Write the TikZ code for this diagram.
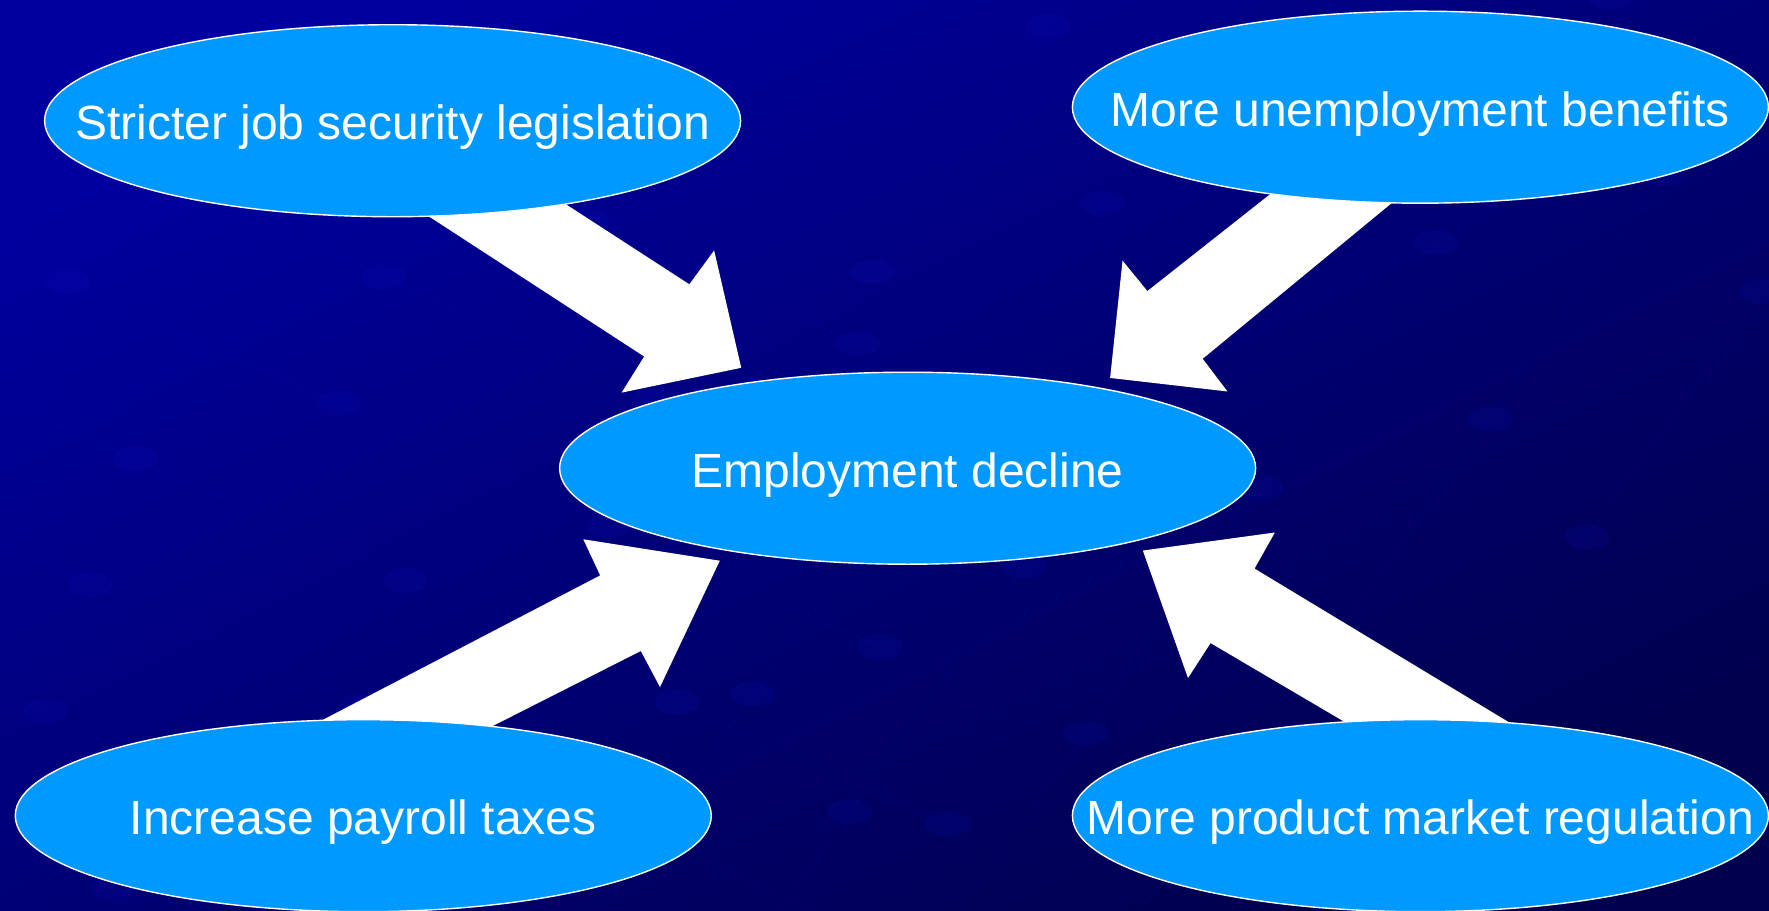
\documentclass[tikz,border=0pt]{standalone}
\usepackage{fontspec}
\setmainfont{Liberation Sans}
\usetikzlibrary{shapes.geometric}
\definecolor{bgA}{RGB}{0,0,158}
\definecolor{bgB}{RGB}{0,0,78}
\definecolor{patc}{RGB}{20,20,210}
\definecolor{ellfill}{RGB}{0,153,255}
\begin{document}
\begin{tikzpicture}[x=1.1282pt,y=-1.1282pt,
  bubble/.style={ellipse, draw=white, line width=1.4pt, fill=ellfill,
    minimum width=696pt, minimum height=192pt, inner sep=0pt},
  lbl/.style={text=white, font=\fontsize{48}{56}\selectfont, anchor=base, inner sep=0pt},
  blockarrow/.style={fill=white},
  patline/.style={draw=patc, opacity=0.1, line width=1pt},
  patdot/.style={fill=patc, opacity=0.12}]
\useasboundingbox (0,0) rectangle (1568,807);
\shade[top color=bgA, bottom color=bgB, shading angle=27] (0,0) rectangle (1568,807);

% faint background pattern
\begin{scope}
\clip (0,0) rectangle (1568,807);
\foreach \yy/\off in {-60/0,70/120,200/40,330/160,460/80,590/0,720/120} {
  \draw[patline] (-50,\yy) -- (850,\yy+405);
  \foreach \xx in {40,280,520,760} {
    \fill[patdot] ({\xx+\off*0.5},{\yy+0.45*(\xx+\off*0.5)+22.5}) ellipse (20 and 11);
  }
}
\foreach \xx/\sh in {900/0.05,1060/0.12,1220/0.0,1380/0.08,1540/0.15,1700/0.03} {
  \draw[patline] (\xx-560,850) -- (\xx+60,-20);
  \foreach \t in {0.15,0.4,0.65,0.9} {
    \fill[patdot] ({\xx-560+(\t+\sh)*620},{850-(\t+\sh)*870}) ellipse (20 and 11);
  }
}
\end{scope}

% block arrows (tails hidden under the ellipses)
\fill[blockarrow] (483,169) -- (611,252) -- (633,222) -- (657,326) -- (551,348) -- (571,316) -- (362,180) -- cycle;
\fill[blockarrow] (1145,157) -- (1017,258) -- (995,231) -- (984,335) -- (1088,347) -- (1066,318) -- (1253,164) -- cycle;
\fill[blockarrow] (269,647) -- (532,510) -- (517,478) -- (638,497) -- (585,609) -- (568,577) -- (420,652) -- cycle;
\fill[blockarrow] (1209,650) -- (1073,570) -- (1053,601) -- (1013,488) -- (1130,472) -- (1112,504) -- (1357,652) -- cycle;

% ellipses
\node[bubble] (jsl) at (348,107) {};
\node[bubble] (ub)  at (1259,95) {};
\node[bubble] (ed)  at (804.5,415) {};
\node[bubble] (pt)  at (322,723) {};
\node[bubble] (pmr) at (1259,723) {};

% labels
\node[lbl] (tjsl) at ([yshift=-19pt]jsl.center) {Stricter job security legislation};
\node[lbl] (tub)  at ([yshift=-19pt]ub.center)  {More unemployment benefits};
\node[lbl] (ted)  at ([yshift=-19pt]ed.center)  {Employment decline};
\node[lbl] (tpt)  at ([yshift=-19pt]pt.center)  {Increase payroll taxes};
\node[lbl] (tpmr) at ([yshift=-19pt]pmr.center) {More product market regulation};
\end{tikzpicture}
\end{document}
